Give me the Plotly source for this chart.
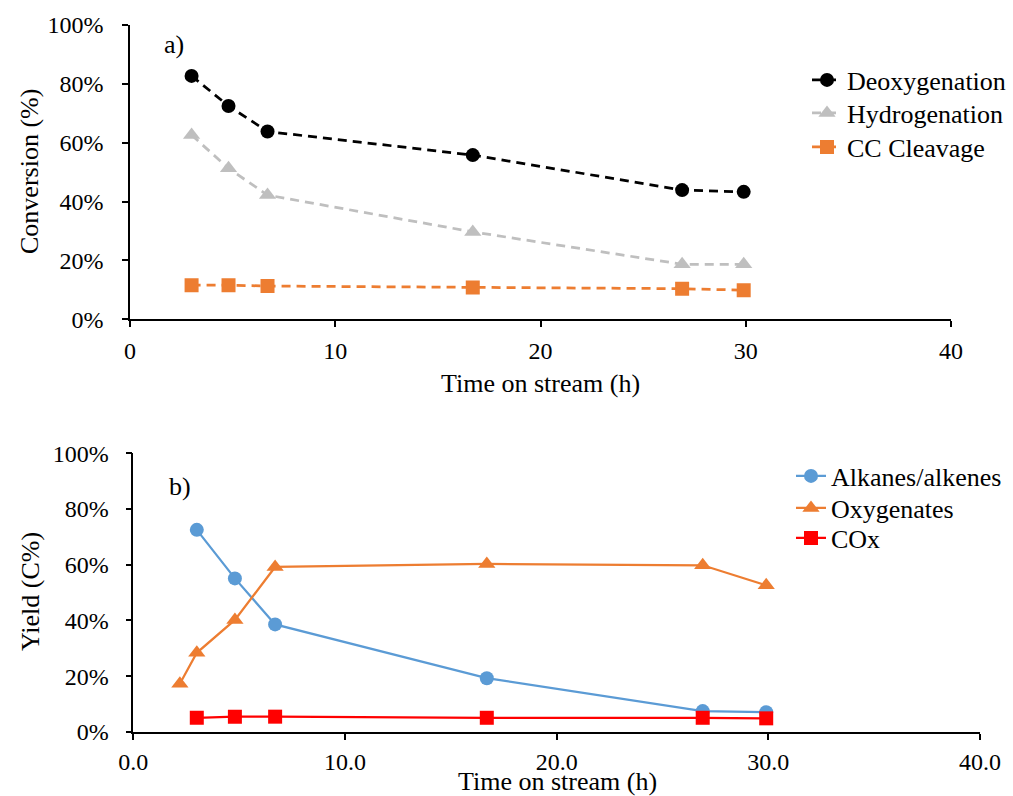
import plotly.graph_objects as go

# Time on stream (h)
time_h = [3.0, 4.8, 6.7, 16.7, 26.9, 29.9]
time_oxy_h = [2.2, 3.0, 4.8, 6.7, 16.7, 26.9, 29.9]

# a) Conversion (%)
deoxygenation = [82.7, 72.5, 63.8, 55.8, 43.9, 43.3]
hydrogenation = [62.6, 51.3, 42.2, 29.7, 18.7, 18.7]
cc_cleavage = [11.6, 11.6, 11.3, 10.8, 10.4, 9.9]

# b) Yield (C%)
alkanes_alkenes = [72.5, 55.1, 38.6, 19.3, 7.5, 7.1]
oxygenates = [17.3, 28.4, 40.2, 59.2, 60.3, 59.8, 52.6]
cox = [5.1, 5.5, 5.5, 5.1, 5.1, 4.9]

W, H = 1013, 796
FONT = "Liberation Serif, Times New Roman, serif"
FS = 24      # tick labels
FS_T = 26    # titles, legend entries, panel tags


def px(x):
    return x / W


def py(y):
    return 1 - y / H


fig = go.Figure()

# top panel: dashed conversion curves
top = dict(xaxis="x", yaxis="y", mode="lines+markers")
fig.add_trace(go.Scatter(x=time_h, y=deoxygenation, name="Deoxygenation", legend="legend",
                         line=dict(color="#000000", width=2.75, dash="9px,6px"),
                         marker=dict(symbol="circle", size=14, color="#000000"), **top))
fig.add_trace(go.Scatter(x=time_h, y=hydrogenation, name="Hydrogenation", legend="legend2",
                         line=dict(color="#BFBFBF", width=2.75, dash="9px,6px"),
                         marker=dict(symbol="triangle-up", size=15, color="#BFBFBF"), **top))
fig.add_trace(go.Scatter(x=time_h, y=cc_cleavage, name="CC Cleavage", legend="legend3",
                         line=dict(color="#ED7D31", width=2.75, dash="9px,6px"),
                         marker=dict(symbol="square", size=14, color="#ED7D31"), **top))

# bottom panel: product yields
bot = dict(xaxis="x2", yaxis="y2", mode="lines+markers")
fig.add_trace(go.Scatter(x=time_h, y=alkanes_alkenes, name="Alkanes/alkenes", legend="legend4",
                         line=dict(color="#5B9BD5", width=2.25),
                         marker=dict(symbol="circle", size=14, color="#5B9BD5"), **bot))
fig.add_trace(go.Scatter(x=time_oxy_h, y=oxygenates, name="Oxygenates", legend="legend5",
                         line=dict(color="#ED7D31", width=2.25),
                         marker=dict(symbol="triangle-up", size=15, color="#ED7D31"), **bot))
fig.add_trace(go.Scatter(x=time_h, y=cox, name="COx", legend="legend6",
                         line=dict(color="#FF0000", width=2.25),
                         marker=dict(symbol="square", size=14, color="#FF0000"), **bot))

axis_common = dict(showline=True, linecolor="#000000", linewidth=1.5, ticks="outside",
                   ticklen=6, tickwidth=1.5, tickcolor="#000000", showgrid=False,
                   zeroline=False, automargin=False,
                   tickfont=dict(family=FONT, size=FS, color="#000000"))


def legend_at(x_text, y_center):
    # legend box placed so the entry text starts at x_text and sits on y_center
    return dict(x=px(x_text - 40), y=py(y_center), xanchor="left", yanchor="middle",
                bgcolor="rgba(0,0,0,0)", borderwidth=0,
                font=dict(family=FONT, size=FS_T, color="#000000"))


fig.update_layout(
    width=W, height=H, template="none",
    paper_bgcolor="white", plot_bgcolor="white",
    margin=dict(l=0, r=0, t=0, b=0),
    font=dict(family=FONT, size=FS, color="#000000"),
    xaxis=dict(domain=[px(130), px(951)], range=[0, 40], dtick=10, anchor="y",
               ticklabelstandoff=3, **axis_common),
    yaxis=dict(domain=[py(319.3), py(25)], range=[0, 100], dtick=20, ticksuffix="%",
               anchor="x", ticklabelstandoff=14, **axis_common),
    xaxis2=dict(domain=[px(133.3), px(980)], range=[0, 40], dtick=10, tickformat=".1f",
                anchor="y2", ticklabelstandoff=1, **axis_common),
    yaxis2=dict(domain=[py(732), py(453.2)], range=[0, 100], dtick=20, ticksuffix="%",
                anchor="x2", ticklabelstandoff=12, **axis_common),
    legend=legend_at(847, 80),
    legend2=legend_at(847, 113),
    legend3=legend_at(847, 147),
    legend4=legend_at(831, 476),
    legend5=legend_at(831, 508),
    legend6=legend_at(831, 538),
    showlegend=True,
)

ann = dict(xref="paper", yref="paper", showarrow=False, xanchor="center", yanchor="middle",
           font=dict(family=FONT, size=FS_T, color="#000000"))
fig.add_annotation(text="a)", x=px(174), y=py(45), **ann)
fig.add_annotation(text="b)", x=px(180), y=py(486), **ann)
fig.add_annotation(text="Conversion (%)", x=px(30), y=py(172), textangle=-90, **ann)
fig.add_annotation(text="Time on stream (h)", x=px(540), y=py(383), **ann)
fig.add_annotation(text="Yield (C%)", x=px(30), y=py(592), textangle=-90, **ann)
fig.add_annotation(text="Time on stream (h)", x=px(557), y=py(781), **ann)

fig.write_html("out.html")
